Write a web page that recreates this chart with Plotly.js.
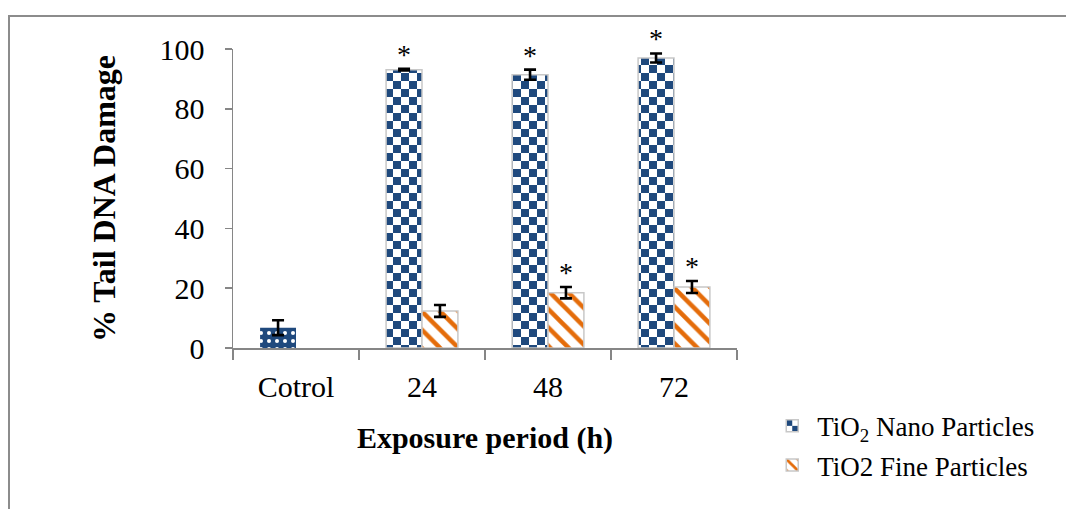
<!DOCTYPE html>
<html>
<head>
<meta charset="utf-8">
<script src="https://cdn.plot.ly/plotly-3.0.1.min.js"></script>
<style>
  html, body { margin: 0; padding: 0; background: #fff; overflow: hidden; }
  #wrap { position: relative; width: 1066px; height: 509px; overflow: hidden; }
  #chart { width: 1066px; height: 509px; }
  #frame { position: absolute; left: 8px; top: 15px; width: 3000px; height: 3000px;
           border-left: 2px solid #8c8c8c; border-top: 2px solid #8c8c8c; pointer-events: none; }
</style>
</head>
<body>
<div id="wrap">
  <div id="chart"></div>
  <div id="frame"></div>
</div>
<script>
// ---- data ----
const categories = ['Cotrol', '24', '48', '72'];

const controlLabel = ['Cotrol'];
const controlValue = [6.8];
const controlError = [2.5];

const exposureLabels = ['24', '48', '72'];
const nanoValues = [93.1, 91.4, 97.0];
const nanoErrors = [0.3, 1.7, 1.5];
const nanoSignificant = [true, true, true];

const fineValues = [12.4, 18.5, 20.4];
const fineErrors = [2.0, 1.9, 2.0];
const fineSignificant = [false, true, true];

const seriesNames = ['TiO<sub>2</sub> Nano Particles', 'TiO2 Fine Particles'];

// ---- styles ----
const NAVY = '#1F497D';
const NAVY_MARK = '#1F497E';   // marker colour used to find the checker pattern
const ORANGE = '#E46C0A';
const OUTLINE = '#C8C8C8';
const AXIS = '#868686';
const FONT = 'Liberation Serif, Times New Roman, serif';

const bargap = 0.43;
const halfBar = (1 - bargap) / 4; // each of 2 groups gets (1-bargap)/2

const errStyle = (arr) => ({ type: 'data', array: arr, visible: true, color: '#000', thickness: 2.6, width: 6 });

const traces = [
  {
    type: 'bar', name: seriesNames[0], x: exposureLabels, y: nanoValues,
    offsetgroup: 'nano', legendgroup: 'nano',
    error_y: errStyle(nanoErrors),
    marker: { color: NAVY, line: { color: OUTLINE, width: 1.5 },
              pattern: { shape: '+', fgcolor: NAVY_MARK, bgcolor: '#ffffff', size: 16, solidity: 0.5, fillmode: 'replace' } },
    hoverinfo: 'x+y'
  },
  {
    type: 'bar', name: seriesNames[1], x: exposureLabels, y: fineValues,
    offsetgroup: 'fine', legendgroup: 'fine',
    error_y: errStyle(fineErrors),
    marker: { color: ORANGE, line: { color: OUTLINE, width: 1.5 },
              pattern: { shape: '\\', fgcolor: ORANGE, bgcolor: '#ffffff', size: 13, solidity: 0.35, fillmode: 'replace' } },
    hoverinfo: 'x+y'
  },
  {
    type: 'bar', name: 'Control', x: controlLabel, y: controlValue,
    offsetgroup: 'nano', showlegend: false,
    error_y: errStyle(controlError),
    marker: { color: NAVY, line: { color: NAVY, width: 0 },
              pattern: { shape: '.', fgcolor: '#ffffff', bgcolor: NAVY, size: 8, solidity: 0.2, fillmode: 'replace' } },
    hoverinfo: 'x+y'
  }
];

const annotations = [];
function addStars(labels, vals, errs, sig, offset) {
  labels.forEach((lab, i) => {
    if (!sig[i]) return;
    annotations.push({
      xref: 'x', yref: 'y', x: categories.indexOf(lab) + offset, y: vals[i] + errs[i],
      text: '*', showarrow: false, yanchor: 'bottom', yshift: -3,
      font: { family: FONT, size: 28, color: '#000' }
    });
  });
}
addStars(exposureLabels, nanoValues, nanoErrors, nanoSignificant, -halfBar);
addStars(exposureLabels, fineValues, fineErrors, fineSignificant, halfBar);

const layout = {
  width: 1066, height: 509,
  margin: { l: 233, r: 329, t: 49, b: 161 },
  paper_bgcolor: 'rgba(0,0,0,0)', plot_bgcolor: 'rgba(0,0,0,0)',
  barmode: 'group', bargap: bargap, bargroupgap: 0,
  font: { family: FONT, color: '#000' },
  xaxis: {
    type: 'category', categoryorder: 'array', categoryarray: categories,
    range: [-0.5, 3.5], tickson: 'boundaries', ticks: 'outside', ticklen: 10,
    tickcolor: AXIS, tickwidth: 1.5, showline: true, linecolor: AXIS, linewidth: 1.5,
    showgrid: false, zeroline: false, ticklabelstandoff: 11,
    tickfont: { family: FONT, size: 30, color: '#000' },
    title: { text: '<b>Exposure period (h)</b>', font: { family: FONT, size: 30, color: '#000' }, standoff: 25 }
  },
  yaxis: {
    range: [0, 100], dtick: 20, tick0: 0, ticks: 'outside', ticklen: 7,
    tickcolor: AXIS, tickwidth: 1.5, showline: true, linecolor: AXIS, linewidth: 1.5,
    showgrid: false, zeroline: false, ticklabelstandoff: 14,
    tickfont: { family: FONT, size: 30, color: '#000' },
    title: { text: '<b>% Tail DNA Damage</b>', font: { family: FONT, size: 32, color: '#000' }, standoff: 34 }
  },
  showlegend: true,
  legend: {
    x: 1.06, y: -0.18, xanchor: 'left', yanchor: 'top',
    orientation: 'v', tracegroupgap: 1, itemwidth: 40,
    font: { family: FONT, size: 27, color: '#000' },
    bgcolor: 'rgba(0,0,0,0)'
  },
  annotations: annotations
};

function checkerize(gd) {
  const pats = gd.querySelectorAll('pattern');
  const ns = 'http://www.w3.org/2000/svg';
  pats.forEach(p => {
    const html = p.outerHTML.replace(/\s+/g, '').toLowerCase();
    if (html.indexOf('rgb(31,73,126)') === -1 && html.indexOf('#1f497e') === -1) return;
    while (p.firstChild) p.removeChild(p.firstChild);
    p.setAttribute('width', 16);
    p.setAttribute('height', 16);
    p.setAttribute('patternUnits', 'userSpaceOnUse');
    const mk = (x, y, w, h, fill) => {
      const r = document.createElementNS(ns, 'rect');
      r.setAttribute('x', x); r.setAttribute('y', y);
      r.setAttribute('width', w); r.setAttribute('height', h);
      r.setAttribute('fill', fill);
      p.appendChild(r);
    };
    mk(0, 0, 16, 16, '#ffffff');
    mk(0, 0, 8, 8, NAVY);
    mk(8, 8, 8, 8, NAVY);
  });
}

const gd = document.getElementById('chart');
Plotly.newPlot(gd, traces, layout, { displayModeBar: false, staticPlot: true }).then(() => checkerize(gd));
</script>
</body>
</html>
